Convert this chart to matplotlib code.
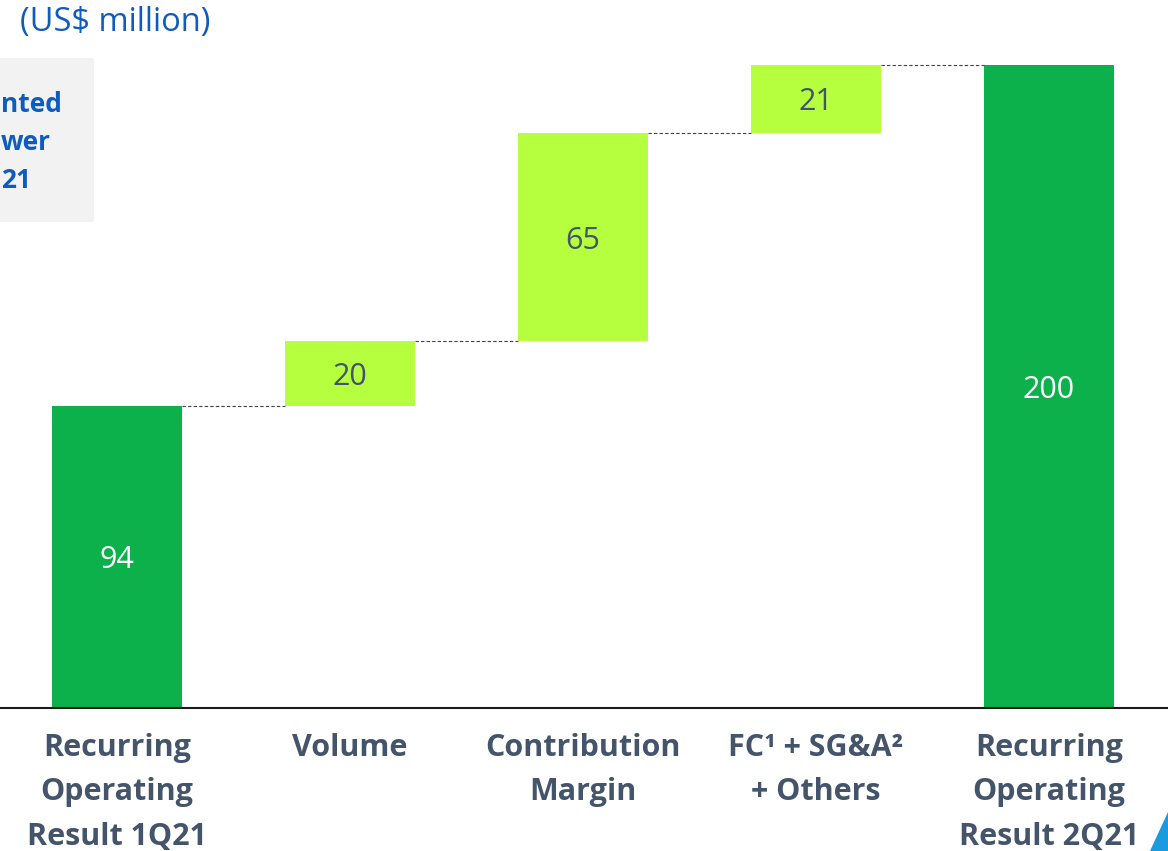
import matplotlib.pyplot as plt
from matplotlib.patches import Polygon

categories = ["Recurring\nOperating\nResult 1Q21", "Volume", "Contribution\nMargin",
              "FC\u00b9 + SG&A\u00b2\n+ Others", "Recurring\nOperating\nResult 2Q21"]
values = [94, 20, 65, 21, 200]
kinds = ["total", "delta", "delta", "delta", "total"]

dark_green = "#0DB14B"
light_green = "#B5FF3F"
label_col = "#44546A"
blue = "#0F5CBF"

fig = plt.figure(figsize=(11.68, 8.51), dpi=100)
ymax = 220
px_per_unit = 3.215
ax = fig.add_axes([0, 143 / 851, 1, ymax * px_per_unit / 851])
ax.set_xlim(-0.502, 4.511)
ax.set_ylim(0, ymax)

# waterfall: totals start at zero, deltas stack on the running total
w = 0.558
running = 0
tops = []
for i, (v, k) in enumerate(zip(values, kinds)):
    if k == "total":
        bottom = 0
        running = v
        color, tcol = dark_green, "white"
    else:
        bottom = running
        running += v
        color, tcol = light_green, label_col
    ax.bar(i, v, bottom=bottom, width=w, color=color, linewidth=0)
    ax.text(i, bottom + v / 2, str(v), ha="center", va="center_baseline",
            fontsize=22, color=tcol, family="Open Sans")
    tops.append(running)

# dashed connectors between consecutive bars
for i in range(len(values) - 1):
    ax.plot([i + w / 2, i + 1 - w / 2], [tops[i], tops[i]], ls=(0, (3, 2)),
            lw=0.8, color="#404040")

for s in ["top", "right", "left"]:
    ax.spines[s].set_visible(False)
ax.spines["bottom"].set_linewidth(1.5)
ax.spines["bottom"].set_color("#1a1a1a")
ax.set_yticks([])
ax.set_xticks([])

for i, c in enumerate(categories):
    fig.text((117 + 233 * i) / 1168, 1 - 733 / 851, c, ha="center", va="top",
             fontsize=22, fontweight="bold", color=label_col, family="Open Sans",
             linespacing=1.62)

fig.text(20 / 1168, 1 - 22 / 851, "(US$ million)", ha="left", va="center",
         fontsize=23.5, color=blue, family="Open Sans")

# grey note box, partly off the left edge
box = fig.add_axes([0, 1 - 222 / 851, 94 / 1168, 164 / 851])
box.set_facecolor("#F2F2F2")
box.set_xticks([])
box.set_yticks([])
for s in box.spines.values():
    s.set_visible(False)
for txt, yp in [("nted", 104), ("wer", 143), ("21", 181)]:
    fig.text(1 / 1168, 1 - yp / 851, txt, ha="left", va="center", fontsize=19,
             fontweight="bold", color=blue, family="Open Sans")

# blue corner mark
tri = Polygon([(1150 / 1168, 0), (1168 / 1168, 0), (1168 / 1168, 1 - 812 / 851)],
              closed=True, transform=fig.transFigure, color="#1A9BE0", lw=0)
fig.patches.append(tri)

fig.savefig("out.png", dpi=100)
